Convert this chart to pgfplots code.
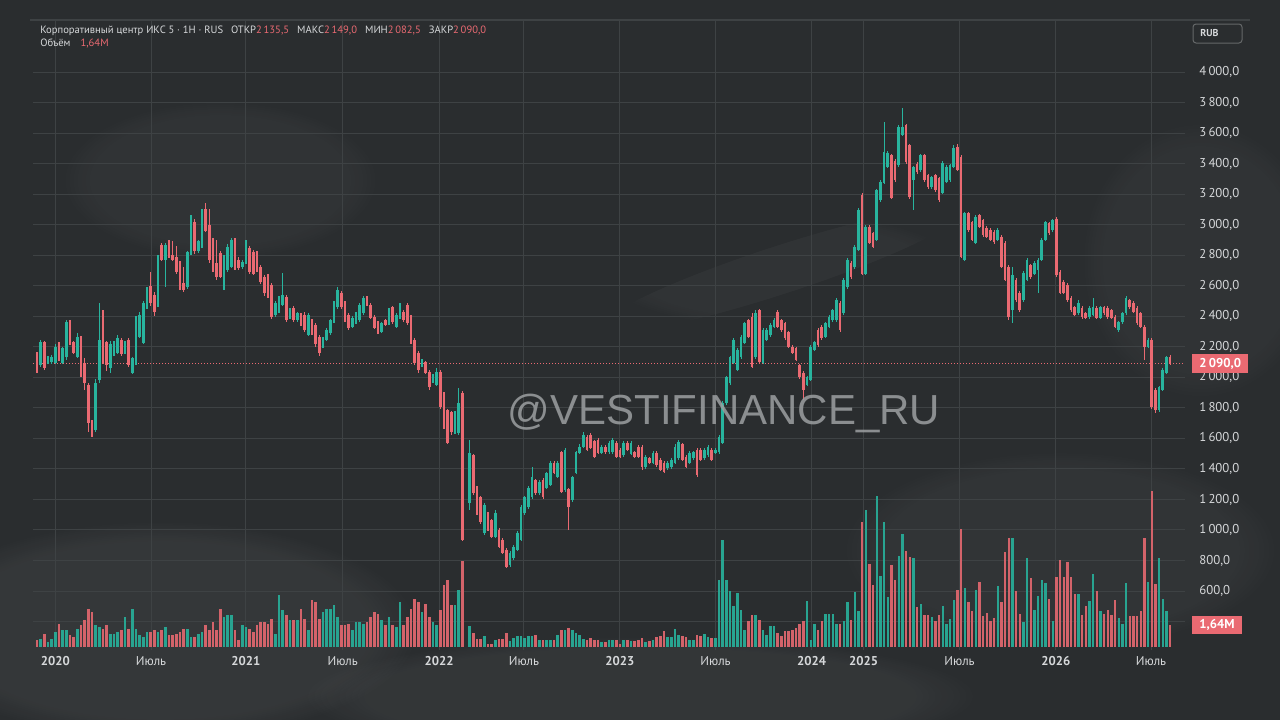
\documentclass[border=0pt]{standalone}
\usepackage{pgfplots}
\pgfplotsset{compat=1.18}
\usepackage{pgfplotstable}
\usetikzlibrary{fadings}
\usepackage{fontspec}
\setmainfont{PT Sans}
\newfontfamily\wmfont{Liberation Sans}

\definecolor{bg}{RGB}{42,45,47}
\definecolor{gridc}{RGB}{62,66,68}
\definecolor{up}{RGB}{40,180,158}
\definecolor{down}{RGB}{234,106,114}
\definecolor{lbl}{RGB}{214,216,218}
\definecolor{wm}{RGB}{156,159,161}

% weekly candles: index, open, high, low, close, volume (millions)
\pgfplotstableread{
i o h l c v
1 2160 2165 2028 2067 0.52
2 2080 2245 2070 2233 0.60
3 2230 2235 2045 2060 0.97
4 2095 2140 2085 2130 0.37
5 2100 2145 2090 2135 0.60
6 2095 2215 2085 2200 1.12
7 2210 2230 2110 2125 1.72
8 2095 2200 2085 2190 1.27
9 2130 2375 2115 2360 1.27
10 2355 2375 2210 2225 0.90
11 2230 2240 2150 2160 0.75
12 2135 2290 2125 2265 1.34
13 2225 2270 2000 2070 1.64
14 2095 2125 1920 1965 2.01
15 1950 1965 1640 1700 2.83
16 1700 1720 1610 1655 2.61
17 1655 1990 1640 1960 1.64
18 1980 2490 1960 2245 1.49
19 2230 2440 2090 2095 1.34
20 2230 2240 2040 2080 1.64
21 2060 2240 2025 2215 0.97
22 2150 2240 2140 2225 0.97
23 2160 2275 2150 2255 1.12
24 2245 2260 2140 2150 1.27
25 2165 2240 2150 2215 2.24
26 2245 2260 2070 2080 1.34
27 2030 2135 2020 2125 2.83
28 2095 2400 2080 2345 1.34
29 2265 2430 2255 2410 0.90
30 2225 2500 2215 2490 0.75
31 2460 2590 2450 2570 1.12
32 2600 2690 2470 2490 1.12
33 2540 2560 2400 2430 1.27
34 2470 2800 2460 2790 1.12
35 2870 2880 2760 2770 1.27
36 2770 2880 2590 2870 1.49
37 2890 2900 2780 2790 0.90
38 2800 2895 2760 2770 0.90
39 2790 2860 2680 2690 0.97
40 2700 2760 2570 2590 1.12
41 2620 2720 2560 2575 1.34
42 2590 2830 2580 2820 1.34
43 2815 3060 2800 3045 0.75
44 3020 3040 2810 2825 0.75
45 2825 2900 2815 2890 0.97
46 2855 3100 2845 3085 1.12
47 3100 3140 2950 2960 1.64
48 3000 3100 2750 2770 1.27
49 2900 2915 2690 2705 1.87
50 2750 2900 2640 2660 1.27
51 2815 2830 2650 2660 2.83
52 2585 2800 2570 2790 2.24
53 2705 2870 2690 2855 2.39
54 2725 2915 2715 2900 2.39
55 2900 2915 2700 2720 1.27
56 2770 2785 2705 2715 0.52
57 2720 2770 2710 2755 1.64
58 2750 2900 2740 2885 1.49
59 2845 2860 2680 2690 1.34
60 2820 2835 2670 2680 1.12
61 2815 2830 2690 2700 1.64
62 2720 2735 2610 2625 1.87
63 2655 2670 2535 2550 1.87
64 2670 2680 2520 2540 1.72
65 2605 2620 2385 2395 2.09
66 2410 2500 2395 2490 0.97
67 2430 2535 2420 2525 3.88
68 2475 2685 2465 2540 2.76
69 2525 2540 2365 2375 2.39
70 2390 2455 2380 2440 2.01
71 2455 2465 2365 2375 2.01
72 2375 2430 2365 2420 2.01
73 2410 2420 2335 2345 2.83
74 2410 2425 2300 2310 2.09
75 2280 2420 2270 2410 1.27
76 2375 2385 2280 2290 3.51
77 2345 2355 2200 2215 3.36
78 2265 2275 2140 2160 2.09
79 2200 2265 2190 2255 2.61
80 2245 2320 2235 2310 2.83
81 2290 2385 2280 2375 2.83
82 2365 2500 2355 2490 3.13
83 2460 2590 2450 2570 2.24
84 2550 2565 2450 2460 1.64
85 2490 2500 2365 2375 1.64
86 2410 2420 2310 2325 1.72
87 2330 2400 2320 2390 1.27
88 2360 2430 2350 2420 1.87
89 2375 2485 2365 2475 1.87
90 2420 2530 2410 2520 1.72
91 2520 2535 2465 2475 1.87
92 2475 2485 2380 2390 2.24
93 2395 2405 2315 2325 2.61
94 2360 2370 2285 2295 2.46
95 2300 2365 2290 2355 2.01
96 2375 2385 2335 2345 1.64
97 2355 2455 2345 2440 2.24
98 2460 2470 2350 2360 1.64
99 2330 2420 2320 2410 1.49
100 2390 2490 2380 2475 3.36
101 2430 2440 2365 2375 1.64
102 2475 2485 2345 2355 2.24
103 2395 2405 2215 2230 2.83
104 2245 2255 2080 2095 3.58
105 2160 2170 2030 2050 3.36
106 2080 2120 2070 2110 2.61
107 2100 2110 2020 2030 3.21
108 2035 2045 1920 1935 2.24
109 1970 2020 1960 2010 1.87
110 1950 2060 1940 2035 1.64
111 2035 2045 1790 1805 2.76
112 1895 1905 1660 1675 4.63
113 1785 1795 1560 1570 5.00
114 1770 1780 1620 1640 3.13
115 1640 1780 1630 1765 3.13
116 1635 1930 1620 1830 4.25
117 1900 1910 930 935 6.42
119 1175 1590 1130 1505 1.57
120 1490 1500 1230 1240 1.04
121 1280 1290 1100 1110 0.60
122 1215 1225 1040 1050 0.60
123 980 1175 970 1165 0.82
124 1110 1120 990 1000 0.22
125 1065 1075 945 955 0.22
126 955 1130 945 1110 0.52
127 1000 1010 880 890 0.60
128 935 945 840 850 0.60
129 870 880 750 760 1.04
130 770 860 760 850 0.45
131 815 900 805 890 0.67
132 870 990 860 980 0.82
133 935 1165 925 1150 0.82
134 1110 1225 1100 1215 0.67
135 1150 1285 1140 1275 0.82
136 1215 1410 1205 1345 0.82
137 1325 1335 1230 1240 0.90
138 1240 1325 1230 1315 0.52
139 1330 1340 1205 1215 0.52
140 1275 1380 1265 1370 0.52
141 1295 1450 1285 1440 0.52
142 1440 1450 1365 1375 0.52
143 1350 1450 1340 1440 0.90
144 1510 1520 1240 1250 1.27
145 1260 1535 1250 1525 1.27
146 1265 1275 1000 1150 1.42
147 1195 1355 1185 1345 1.27
148 1375 1520 1365 1510 1.04
149 1505 1560 1495 1545 0.90
150 1545 1640 1535 1625 0.60
151 1610 1625 1515 1525 0.52
152 1625 1635 1530 1540 0.67
153 1580 1590 1470 1480 0.52
154 1590 1600 1495 1505 0.52
155 1505 1555 1495 1545 0.37
156 1545 1555 1500 1510 0.37
157 1510 1580 1500 1570 0.52
158 1510 1600 1500 1590 0.52
159 1570 1580 1470 1480 0.52
160 1525 1535 1470 1480 0.22
161 1490 1580 1480 1570 0.52
162 1570 1580 1515 1525 0.52
163 1500 1580 1490 1570 0.45
164 1510 1520 1470 1480 0.45
165 1545 1555 1470 1480 0.52
166 1545 1555 1395 1415 0.67
167 1410 1490 1400 1480 0.37
168 1470 1480 1430 1440 0.45
169 1440 1515 1430 1505 0.52
170 1505 1515 1415 1425 0.75
171 1460 1470 1385 1395 0.82
172 1440 1450 1370 1380 1.19
173 1405 1450 1395 1440 0.75
174 1410 1470 1400 1460 0.75
175 1440 1560 1430 1545 1.34
176 1470 1590 1460 1575 0.90
177 1560 1570 1450 1460 0.82
178 1480 1490 1405 1415 0.75
179 1440 1515 1430 1505 0.52
180 1470 1520 1460 1510 0.52
181 1525 1535 1345 1360 0.90
182 1525 1535 1450 1460 0.82
183 1470 1535 1460 1525 0.97
184 1490 1555 1480 1545 0.75
185 1525 1535 1450 1460 0.67
186 1505 1535 1495 1525 0.67
187 1510 1620 1500 1610 5.00
188 1570 1845 1560 1830 7.98
189 1830 2010 1820 2000 5.00
190 1960 2140 1950 2130 4.18
191 2095 2255 2085 2245 3.06
192 2050 2190 2040 2180 4.03
193 2130 2275 2120 2265 2.76
194 2225 2365 2215 2355 1.27
195 2375 2385 2255 2265 1.94
196 2395 2420 2060 2070 2.39
197 2130 2440 2120 2420 2.39
198 2440 2450 2090 2100 2.01
199 2095 2320 2085 2310 1.27
200 2245 2320 2235 2310 0.90
201 2275 2355 2265 2345 1.57
202 2330 2390 2320 2375 1.57
203 2430 2440 2320 2330 1.04
204 2375 2385 2300 2310 0.82
205 2355 2365 2245 2255 1.19
206 2295 2305 2190 2200 1.19
207 2200 2210 2150 2160 1.27
208 2190 2200 2105 2115 1.42
209 2080 2090 1990 2000 1.72
210 2030 2040 1850 1920 1.94
211 1950 2010 1940 2000 3.43
212 1985 2210 1975 2200 0.52
213 2180 2240 2170 2230 1.72
214 2310 2320 2200 2210 1.27
215 2330 2340 2245 2255 1.94
216 2265 2365 2255 2355 2.46
217 2330 2405 2320 2395 2.46
218 2375 2450 2365 2440 2.46
219 2375 2520 2365 2505 1.72
220 2490 2500 2300 2310 1.72
221 2420 2650 2410 2635 1.94
222 2590 2780 2580 2770 3.36
223 2750 2760 2645 2655 2.01
224 2720 2865 2710 2855 4.10
225 2835 3110 2825 3095 2.69
226 3195 3210 2670 2680 9.33
227 2680 2995 2670 2985 10.22
228 2985 2995 2870 2880 6.19
229 2945 2955 2845 2855 4.63
230 2900 3235 2890 3225 11.26
231 3160 3290 3150 3280 5.30
232 3275 3670 3265 3475 9.33
233 3380 3480 3370 3470 3.73
234 3455 3465 3165 3175 6.12
235 3420 3430 3280 3290 5.00
236 3390 3650 3380 3640 6.79
237 3590 3765 3580 3640 8.43
238 3650 3660 3400 3410 7.16
239 3520 3530 3170 3180 6.71
240 3290 3385 3095 3375 6.64
241 3400 3410 3335 3345 2.98
242 3355 3465 3345 3455 3.21
243 3455 3465 3280 3290 2.39
244 3325 3335 3235 3245 2.39
245 3245 3320 3235 3310 2.24
246 3325 3335 3215 3225 1.94
247 3305 3315 3150 3160 2.39
248 3210 3415 3200 3405 3.06
249 3280 3390 3270 3380 1.72
250 3290 3400 3280 3390 2.09
251 3380 3520 3370 3500 3.51
252 3510 3530 3350 3360 4.25
253 3445 3455 2780 2790 8.80
254 2770 3085 2760 3075 4.40
255 3075 3085 2955 2965 3.36
256 3015 3025 2890 2900 2.69
257 2880 3060 2870 3050 4.25
258 3060 3070 2975 2985 4.85
259 3030 3040 2920 2930 2.31
260 2980 2990 2910 2920 2.54
261 2965 2975 2890 2900 1.94
262 2955 2965 2875 2885 2.16
263 2900 2975 2890 2965 4.55
264 2920 2930 2715 2725 3.36
265 2880 2890 2630 2640 7.09
266 2725 2735 2375 2395 8.13
267 2440 2725 2355 2670 8.13
268 2640 2650 2495 2505 4.18
269 2555 2565 2430 2440 2.46
270 2505 2695 2495 2685 1.87
271 2640 2780 2630 2770 6.64
272 2735 2745 2645 2655 5.15
273 2680 2760 2670 2750 2.76
274 2705 2780 2555 2770 3.80
275 2770 2910 2760 2900 5.00
276 2900 3025 2890 3015 4.77
277 3010 3020 2935 2945 3.58
278 2965 3040 2955 3030 1.94
279 3040 3050 2660 2670 5.22
280 2690 2700 2545 2555 6.49
281 2625 2635 2545 2555 5.22
282 2605 2615 2495 2505 6.34
283 2520 2530 2430 2440 5.22
284 2460 2470 2400 2410 3.95
285 2420 2505 2410 2485 3.95
286 2455 2465 2385 2395 2.39
287 2420 2430 2380 2390 3.06
288 2395 2465 2385 2455 3.43
289 2410 2520 2400 2460 5.45
290 2455 2465 2380 2390 4.18
291 2390 2470 2380 2460 2.69
292 2460 2470 2410 2420 2.46
293 2455 2465 2385 2395 2.76
294 2440 2450 2380 2390 2.39
295 2395 2405 2320 2330 3.51
296 2310 2370 2300 2360 2.16
297 2360 2430 2350 2420 1.72
298 2420 2530 2410 2520 4.77
299 2505 2515 2450 2460 2.31
300 2490 2500 2420 2430 2.31
301 2455 2465 2345 2355 2.31
302 2420 2430 2320 2330 2.69
303 2330 2340 2115 2200 8.13
304 2200 2255 2190 2245 4.85
305 2245 2260 1795 1805 11.64
306 1920 1930 1765 1785 4.70
307 1785 1945 1770 1935 6.64
308 1920 2060 1910 2050 3.58
309 2030 2140 2020 2130 2.69
310 2135.5 2149 2082.5 2090 1.64
}\candles

\pgfplotsset{
  candle/.style n args={3}{draw=none, mark=none, forget plot,
    restrict expr to domain={\thisrow{c}-\thisrow{o}}{#1},
    error bars/.cd, y dir=both, y explicit, error mark=none,
    error bar style={solid, line width=#2, draw=#3}},
}

\begin{document}
\begin{tikzpicture}
\useasboundingbox (0,0) rectangle (640pt,360pt);
\fill[bg] (0,0) rectangle (640pt,360pt);
% chalk smudges
\fill[white, fill opacity=0.05, path fading=circle with fuzzy edge 20 percent] (80pt,45pt) ellipse (130pt and 55pt);
\fill[white, fill opacity=0.045, path fading=circle with fuzzy edge 20 percent] (320pt,12pt) ellipse (170pt and 30pt);
\fill[white, fill opacity=0.035, path fading=circle with fuzzy edge 20 percent] (530pt,85pt) ellipse (110pt and 50pt);
\fill[white, fill opacity=0.03, path fading=circle with fuzzy edge 20 percent, rotate around={18:(390pt,225pt)}] (390pt,225pt) ellipse (95pt and 12pt);
\fill[white, fill opacity=0.03, path fading=circle with fuzzy edge 20 percent] (110pt,270pt) ellipse (80pt and 40pt);
\fill[white, fill opacity=0.03, path fading=circle with fuzzy edge 20 percent] (600pt,230pt) ellipse (60pt and 70pt);
\draw[gridc, line width=0.6pt] (15pt,350pt) -- (625pt,350pt);

\begin{axis}[
  scale only axis, width=576pt, height=315pt,
  at={(16.5pt,35pt)}, anchor=south west,
  xmin=-0.091, xmax=314.06, ymin=213.5, ymax=4340.7,
  axis line style={draw=none}, tick style={draw=none},
  xmajorgrids, ymajorgrids,
  grid style={gridc, line width=0.5pt},
  yticklabel pos=right,
  ytick={400,600,...,4000},
  yticklabels={{},{600,0},{800,0},{1\,000,0},{1\,200,0},{1\,400,0},{1\,600,0},{1\,800,0},{2\,000,0},{2\,200,0},{2\,400,0},{2\,600,0},{2\,800,0},{3\,000,0},{3\,200,0},{3\,400,0},{3\,600,0},{3\,800,0},{4\,000,0}},
  yticklabel style={anchor=west, inner sep=0pt, xshift=7pt},
  xtick={6.04,32.09,57.99,84.37,110.63,133.8,159.98,186.03,212.26,226.45,252.57,278.83,304.8},
  xticklabels={\textbf{2020},Июль,\textbf{2021},Июль,\textbf{2022},Июль,\textbf{2023},Июль,\textbf{2024},\textbf{2025},Июль,\textbf{2026},Июль},
  xticklabel style={anchor=center, yshift=-5.5pt},
  ticklabel style={font=\fontsize{6.4}{7.5}\selectfont, text=lbl},
  extra y ticks={377.2,2090},
  extra y tick labels={{1,64M},{2\,090,0}},
  extra y tick style={grid=none, yticklabel style={fill=down, text=white, font=\fontsize{6.4}{7.5}\selectfont\bfseries, inner xsep=3.5pt, inner ysep=1.8pt, xshift=-3.5pt}},
]
% volume
\addplot[candle={0:100000}{1.25pt}{up!88!bg}]
  table[x=i, y expr=233.2+43.9*\thisrow{v}, y error expr=43.9*\thisrow{v}]{\candles};
\addplot[candle={-100000:-0.01}{1.25pt}{down!88!bg}]
  table[x=i, y expr=233.2+43.9*\thisrow{v}, y error expr=43.9*\thisrow{v}]{\candles};
% last price line
\addplot[down, densely dotted, line width=0.5pt] coordinates {(-0.091,2090) (314.06,2090)};
% wicks
\addplot[candle={0:100000}{0.55pt}{up}]
  table[x=i, y expr=(\thisrow{h}+\thisrow{l})/2, y error expr=(\thisrow{h}-\thisrow{l})/2]{\candles};
\addplot[candle={-100000:-0.01}{0.55pt}{down}]
  table[x=i, y expr=(\thisrow{h}+\thisrow{l})/2, y error expr=(\thisrow{h}-\thisrow{l})/2]{\candles};
% bodies
\addplot[candle={0:100000}{1.3pt}{up}]
  table[x=i, y expr=(\thisrow{o}+\thisrow{c})/2, y error expr=(\thisrow{c}-\thisrow{o})/2]{\candles};
\addplot[candle={-100000:-0.01}{1.3pt}{down}]
  table[x=i, y expr=(\thisrow{o}+\thisrow{c})/2, y error expr=(\thisrow{o}-\thisrow{c})/2]{\candles};
\end{axis}

% header
\node[anchor=west, inner sep=0pt, text=lbl, font=\fontsize{5.3}{6}\selectfont] at (20pt,344.5pt)
  {Корпоративный центр ИКС 5 · 1H · RUS\hspace{4pt}ОТКР\textcolor{down}{2\,135,5}\hspace{4pt}МАКС\textcolor{down}{2\,149,0}\hspace{4pt}МИН\textcolor{down}{2\,082,5}\hspace{4pt}ЗАКР\textcolor{down}{2\,090,0}};
\node[anchor=west, inner sep=0pt, text=lbl, font=\fontsize{5.3}{6}\selectfont] at (20pt,338.5pt)
  {Объём\hspace{5pt}\textcolor{down}{1,64M}};
% currency box
\draw[gridc!80!white, line width=0.5pt, rounded corners=1.5pt] (596.5pt,338.5pt) rectangle (621pt,348pt);
\node[anchor=west, inner sep=0pt, text=lbl, font=\fontsize{5}{6}\selectfont\bfseries] at (600pt,343.3pt) {RUB};
% watermark
\node[text=wm, opacity=0.85, font=\wmfont\fontsize{21}{24}\selectfont] at (362pt,153.5pt) {@VESTIFINANCE\_RU};
\end{tikzpicture}
\end{document}
